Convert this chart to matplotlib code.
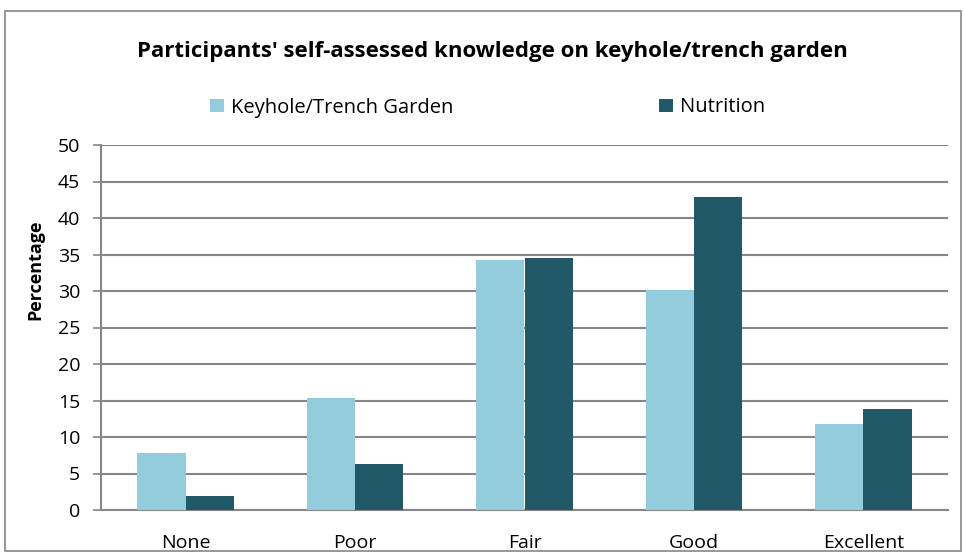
import matplotlib
matplotlib.use("Agg")
import matplotlib.pyplot as plt
import numpy as np
from matplotlib.patches import Rectangle

categories = ["None", "Poor", "Fair", "Good", "Excellent"]
keyhole = [7.8, 15.4, 34.3, 30.1, 11.8]
nutrition = [1.9, 6.3, 34.5, 42.9, 13.8]
series_names = ["Keyhole/Trench Garden", "Nutrition"]
yticks = list(range(0, 51, 5))

plt.rcParams['font.family'] = ['Open Sans', 'DejaVu Sans']

W, H = 964, 557
fig = plt.figure(figsize=(W / 100, H / 100), dpi=100)
fig.patches.append(Rectangle((5 / W, 1 - 551 / H), 956 / W, 540 / H, transform=fig.transFigure,
                             fill=False, edgecolor="#868686", linewidth=1.2))

ax = fig.add_axes([101 / W, 47 / H, 847 / W, 365 / H])
x = np.arange(len(categories))
w = 0.285
b1 = ax.bar(x - w / 2, keyhole, w, color="#93CDDD", label=series_names[0], zorder=3)
b2 = ax.bar(x + w / 2, nutrition, w, color="#215968", label=series_names[1], zorder=3)

ax.set_xlim(-0.5, len(categories) - 0.5)
ax.set_ylim(0, 50)
ax.set_yticks(yticks)
ax.set_xticks(x)
ax.set_xticklabels(categories, fontsize=14)
ax.tick_params(axis='y', labelsize=14, length=6, color="#868686", width=1.2, pad=9)
ax.tick_params(axis='x', length=0, pad=17)
ax.yaxis.grid(True, color="#868686", linewidth=1.5, zorder=0)
for s in ["top", "right"]:
    ax.spines[s].set_visible(False)
for s in ["left", "bottom"]:
    ax.spines[s].set_color("#868686")
    ax.spines[s].set_linewidth(1.5)

fig.text(35 / W, 1 - 270 / H, "Percentage", rotation=90, ha="center", va="center",
         fontsize=13, fontweight="bold")

fig.text(492 / W, 1 - 52 / H, "Participants' self-assessed knowledge on keyhole/trench garden",
         ha="center", va="center", fontsize=16, fontweight="bold")

for handle, name, xpos in [(b1, series_names[0], 210), (b2, series_names[1], 659)]:
    fig.legend(handles=[handle], labels=[name], loc="center left",
               bbox_to_anchor=(xpos / W, 1 - 107.5 / H), frameon=False, fontsize=14.5,
               handlelength=0.68, handleheight=0.68, handletextpad=0.35,
               borderpad=0, borderaxespad=0)

fig.savefig("out.png", dpi=100)
